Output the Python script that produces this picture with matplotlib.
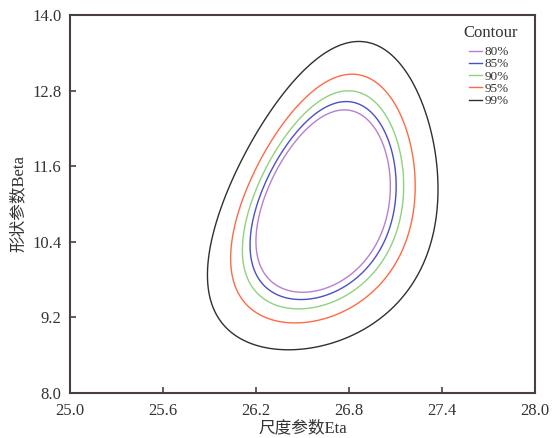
import math
import numpy as np
import matplotlib
matplotlib.use("Agg")
import matplotlib.pyplot as plt

# MLE of Weibull parameters and sample size behind the likelihood-ratio contours
eta_hat = 26.635
beta_hat = 11.0
n_samples = 113
conf_levels = [0.80, 0.85, 0.90, 0.95, 0.99]
level_labels = ["80%", "85%", "90%", "95%", "99%"]
level_colors = ["#b77fcf", "#4b4fc8", "#8fd27f", "#ff6a45", "#303030"]

x_ticks = [25.0, 25.6, 26.2, 26.8, 27.4, 28.0]
y_ticks = [8.0, 9.2, 10.4, 11.6, 12.8, 14.0]

plt.rcParams['font.family'] = ['Liberation Serif', 'Noto Sans CJK SC']
plt.rcParams['font.size'] = 12

EULER = 0.5772156649


def loglik(eta, beta):
    # expected weibull log-likelihood with true params at the MLE
    g = np.vectorize(math.gamma)(1 + beta / beta_hat)
    return n_samples * (np.log(beta) - beta * np.log(eta)
                        + (beta - 1) * (np.log(eta_hat) - EULER / beta_hat)
                        - (eta_hat / eta) ** beta * g)


eta = np.linspace(25.0, 28.0, 400)
beta = np.linspace(8.0, 14.0, 400)
E, B = np.meshgrid(eta, beta)
dev = 2 * (loglik(eta_hat, beta_hat) - loglik(E, B))
levels = [-2 * math.log(1 - p) for p in conf_levels]

fig = plt.figure(figsize=(5.53, 4.38), dpi=100)
ax = fig.add_axes([0.1266, 0.1027, 0.8409, 0.8631])
cs = ax.contour(E, B, dev, levels=levels, colors=level_colors, linewidths=1.0)

handles = [plt.Line2D([], [], color=c, lw=1.0) for c in level_colors]
leg = ax.legend(handles, level_labels, loc="upper left",
                frameon=False, fontsize=9.5,
                handlelength=1.0, handletextpad=0.2, labelspacing=0.0,
                borderpad=0.0, borderaxespad=0.0,
                bbox_to_anchor=(0.858, 0.918))
for t in leg.get_texts():
    t.set_color("#333333")
ax.text(0.905, 0.952, "Contour", transform=ax.transAxes, ha="center",
        va="center", fontsize=12, color="#333333")

ax.set_xlim(25.0, 28.0)
ax.set_ylim(8.0, 14.0)
ax.set_xticks(x_ticks)
ax.set_yticks(y_ticks)
ax.set_xticklabels([f"{v:.1f}" for v in x_ticks])
ax.set_yticklabels([f"{v:.1f}" for v in y_ticks])
ax.tick_params(direction="in", length=4, width=1.2, color="#4a3f3f",
               labelcolor="#333333")
ax.tick_params(axis="x", pad=7)
ax.tick_params(axis="y", pad=6)
for s in ax.spines.values():
    s.set_color("#4a3f3f")
    s.set_linewidth(1.5)
ax.set_xlabel("尺度参数Eta", labelpad=1, color="#333333")
ax.set_ylabel("形状参数Beta", labelpad=4, color="#333333")

fig.savefig("out.png", dpi=100)
